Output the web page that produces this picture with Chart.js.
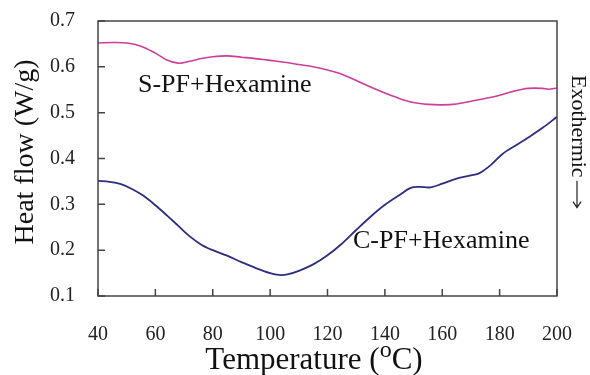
<!DOCTYPE html>
<html>
<head>
<meta charset="utf-8">
<script src="https://cdn.jsdelivr.net/npm/chart.js@4/dist/chart.umd.min.js"></script>
<style>
  html, body { margin: 0; padding: 0; background: #fff; }
  #wrap { width: 590px; height: 375px; }
</style>
</head>
<body>
<div id="wrap"><canvas id="grafico" width="590" height="375"></canvas></div>
<script>
const tempS = [40, 45, 50, 55, 60, 64, 68, 72, 76, 80, 85, 90, 95, 100, 105, 110, 115, 120, 125, 130,
  135, 140, 145, 150, 155, 160, 165, 170, 175, 180, 185, 190, 195, 197, 200];
const heatS = [0.652, 0.653, 0.652, 0.645, 0.630, 0.615, 0.608, 0.612, 0.618, 0.622, 0.624, 0.621, 0.618, 0.614,
  0.610, 0.605, 0.600, 0.593, 0.584, 0.570, 0.556, 0.543, 0.531, 0.522, 0.518, 0.517, 0.519, 0.525,
  0.531, 0.538, 0.547, 0.553, 0.553, 0.551, 0.554];

const tempC = [40, 44, 48, 52, 56, 60, 64, 68, 72, 76, 80, 85, 90, 95, 100, 103, 106, 110, 115, 120,
  125, 130, 135, 140, 145, 149, 152, 156, 160, 165, 170, 173, 177, 181, 186, 190, 195, 200];
const heatC = [0.351, 0.349, 0.344, 0.333, 0.318, 0.298, 0.276, 0.253, 0.230, 0.212, 0.200, 0.188, 0.174,
  0.161, 0.150, 0.146, 0.147, 0.155, 0.169, 0.189, 0.214, 0.244, 0.273, 0.299, 0.320, 0.336, 0.338,
  0.337, 0.345, 0.356, 0.363, 0.368, 0.386, 0.410, 0.430, 0.446, 0.467, 0.491];

const seriesNames = ['S-PF+Hexamine', 'C-PF+Hexamine'];
const serif = '"Liberation Serif", "Times New Roman", serif';

function pares(xs, ys) {
  return xs.map((x, i) => ({ x: x, y: ys[i] }));
}

// moldura, marcas internas e textos
const extras = {
  id: 'extras',
  afterDraw(chart) {
    const c = chart.ctx;
    const a = chart.chartArea;
    const sx = chart.scales.x, sy = chart.scales.y;
    c.save();
    c.strokeStyle = '#444';
    c.lineWidth = 1.5;
    c.strokeRect(a.left, a.top, a.right - a.left, a.bottom - a.top);
    c.beginPath();
    sy.ticks.forEach(t => {
      const y = sy.getPixelForValue(t.value);
      c.moveTo(a.left, y); c.lineTo(a.left + 7, y);
    });
    sx.ticks.forEach(t => {
      const x = sx.getPixelForValue(t.value);
      c.moveTo(x, a.bottom); c.lineTo(x, a.bottom - 7);
    });
    c.stroke();

    c.fillStyle = '#111';
    c.textBaseline = 'alphabetic';
    c.font = '26px ' + serif;
    c.textAlign = 'left';
    c.fillText(seriesNames[0], 138, 92);
    c.fillText(seriesNames[1], 353, 248);

    // titulo do eixo x com o sobrescrito
    const f1 = '31px ' + serif, f2 = '24px ' + serif;
    c.font = f1; const w1 = c.measureText('Temperature (').width;
    c.font = f2; const w2 = c.measureText('o').width;
    c.font = f1; const w3 = c.measureText('C)').width;
    let x0 = 314 - (w1 + w2 + w3) / 2;
    c.font = f1; c.fillText('Temperature (', x0, 369);
    c.font = f2; c.fillText('o', x0 + w1, 357);
    c.font = f1; c.fillText('C)', x0 + w1 + w2, 369);

    // titulo do eixo y
    c.save();
    c.translate(26, 152);
    c.rotate(-Math.PI / 2);
    c.textAlign = 'center';
    c.textBaseline = 'middle';
    c.font = '28px ' + serif;
    c.fillText('Heat flow (W/g)', 0, 0);
    c.restore();

    // Exothermic com seta
    c.save();
    c.translate(578, 75);
    c.rotate(Math.PI / 2);
    c.textAlign = 'left';
    c.textBaseline = 'middle';
    c.font = '22px ' + serif;
    c.fillText('Exothermic', 0, 0);
    const w = c.measureText('Exothermic').width;
    c.strokeStyle = '#222';
    c.lineWidth = 1.2;
    c.beginPath();
    c.moveTo(w + 3, 1); c.lineTo(w + 30, 1);
    c.moveTo(w + 24, -3); c.lineTo(w + 30, 1); c.lineTo(w + 24, 5);
    c.stroke();
    c.restore();
    c.restore();
  }
};

const ctx = document.getElementById('grafico').getContext('2d');
const grafico = new Chart(ctx, {
  type: 'line',
  data: {
    datasets: [{
      label: seriesNames[0],
      data: pares(tempS, heatS),
      borderColor: '#cc3d9c',
      borderWidth: 1.6,
      pointRadius: 0,
      tension: 0.35
    }, {
      label: seriesNames[1],
      data: pares(tempC, heatC),
      borderColor: '#2e2d80',
      borderWidth: 1.8,
      pointRadius: 0,
      tension: 0.35
    }]
  },
  options: {
    responsive: false,
    animation: false,
    layout: { padding: { left: 0, right: 33, top: 21, bottom: 0 } },
    plugins: { legend: { display: false }, tooltip: { enabled: false } },
    scales: {
      x: {
        type: 'linear',
        min: 40, max: 200,
        grid: { display: false, drawTicks: false },
        border: { display: false },
        ticks: { stepSize: 20, padding: 27, color: '#222', font: { family: serif, size: 20 } },
        afterFit(s) { s.height = 79; s.paddingLeft = 0; s.paddingRight = 0; }
      },
      y: {
        min: 0.1, max: 0.7,
        grid: { display: false, drawTicks: false },
        border: { display: false },
        ticks: { stepSize: 0.1, padding: 23, color: '#222', font: { family: serif, size: 20 },
          callback: v => v.toFixed(1) },
        afterFit(s) { s.width = 98; s.paddingTop = 0; s.paddingBottom = 0; }
      }
    }
  },
  plugins: [extras]
});
</script>
</body>
</html>
